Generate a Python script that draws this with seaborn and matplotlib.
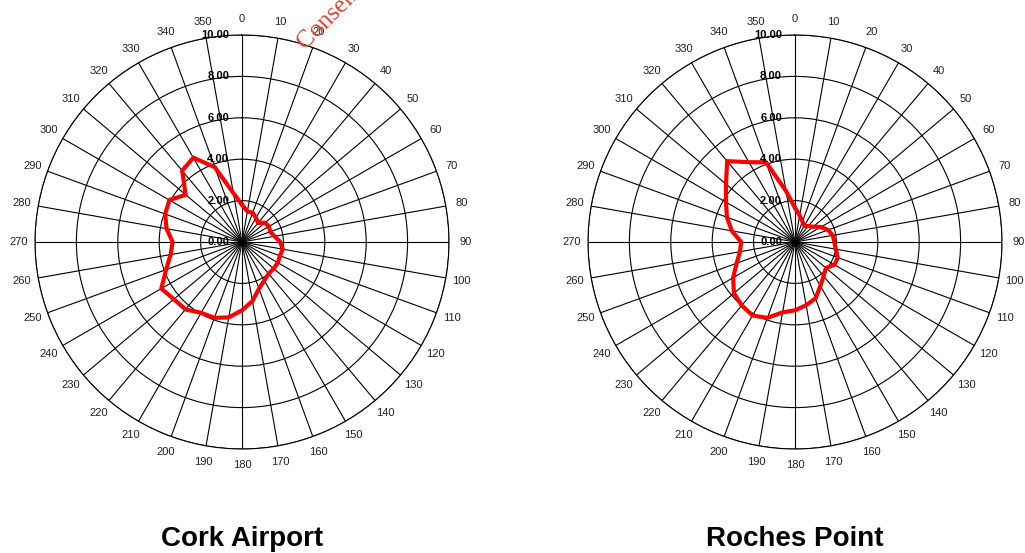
import numpy as np
import pandas as pd
import seaborn as sns
import matplotlib
matplotlib.use('Agg')
import matplotlib.pyplot as plt
from matplotlib.transforms import offset_copy

###############################################################################
# Data (wind direction frequency, %)
###############################################################################
DIRS = list(range(0, 360, 10))
CORK = [
    1.80, 1.50, 1.50, 1.35, 1.20, 1.45, 1.50, 1.45, 1.60, 1.85, 2.00, 1.95,
    2.00, 2.00, 2.00, 2.15, 2.40, 2.90, 3.30, 3.70, 3.90, 3.95, 4.25, 4.30,
    4.50, 3.90, 3.50, 3.35, 3.70, 3.95, 4.05, 3.55, 4.50, 4.70, 3.85, 2.40
]
ROCHES = [
    1.65, 1.30, 1.05, 0.90, 1.00, 1.15, 1.45, 1.70, 1.85, 1.90, 2.00, 2.20,
    2.20, 1.95, 2.15, 2.45, 2.90, 3.10, 3.30, 3.45, 3.90, 4.10, 4.00, 3.85,
    3.45, 3.00, 2.70, 2.60, 3.10, 3.50, 3.85, 4.35, 5.10, 4.45, 4.10, 2.50
]
STATIONS = ['Cork Airport', 'Roches Point']
RINGS = [0, 2, 4, 6, 8, 10]
###############################################################################
# Style
###############################################################################
sns.set_style('white')
plt.rcParams['font.family'] = ['Liberation Sans', 'DejaVu Sans']
plt.rcParams['text.color'] = 'black'

fig = plt.figure(figsize=(10.25, 5.53), dpi=100)
W, H = 1025, 553
R_PX = 207
CENTERS = [(242, 242), (795, 242)]

for (name, vals, (cx, cy)) in zip(STATIONS, [CORK, ROCHES], CENTERS):
    ax = fig.add_axes([
        (cx - R_PX) / W, (H - cy - R_PX) / H, 2 * R_PX / W, 2 * R_PX / H
    ], projection='polar')
    ax.set_theta_zero_location('N')
    ax.set_theta_direction(-1)
    # closed loop (last point at 360 deg) -------------------------------------
    df = pd.DataFrame({
        'theta': np.deg2rad(DIRS + [360]),
        'r': vals + [vals[0]]
    })
    sns.lineplot(data=df, x='theta', y='r', ax=ax, sort=False,
                 estimator=None, color='#ff0000', lw=3, zorder=5)
    ax.set_ylim(0, 10)
    ax.set_xticks(np.deg2rad(DIRS))
    ax.set_xticklabels([])
    ax.set_yticks(RINGS)
    ax.set_yticklabels([])
    ax.set_xlabel('')
    ax.set_ylabel('')
    ax.grid(True, color='black', lw=0.8, ls='-')
    ax.spines['polar'].set_color('black')
    ax.spines['polar'].set_linewidth(0.8)
    # angle labels ------------------------------------------------------------
    for d in DIRS:
        ax.text(np.deg2rad(d), 10.78, str(d), ha='center', va='center',
                fontsize=8, color='#222222', clip_on=False)
    # ring labels ------------------------------------------------------------
    trans = offset_copy(ax.transData, fig=fig, x=-13, y=0, units='dots')
    for r in RINGS:
        ax.text(0, r, '{:.2f}'.format(r), transform=trans, ha='right',
                va='center', fontsize=8, fontweight='bold', zorder=6)
    fig.text(cx / W, 1 - 526 / H, name, ha='center', va='top',
             fontsize=20, fontweight='bold')

# watermark -------------------------------------------------------------------
fig.text(305 / W, 1 - 50 / H,
         'Consent of copyright owner required for any other use.',
         rotation=45, rotation_mode='anchor', ha='left', va='baseline',
         fontsize=18, color='#d9442b', family='Liberation Serif')

fig.savefig('out.png', dpi=100)
